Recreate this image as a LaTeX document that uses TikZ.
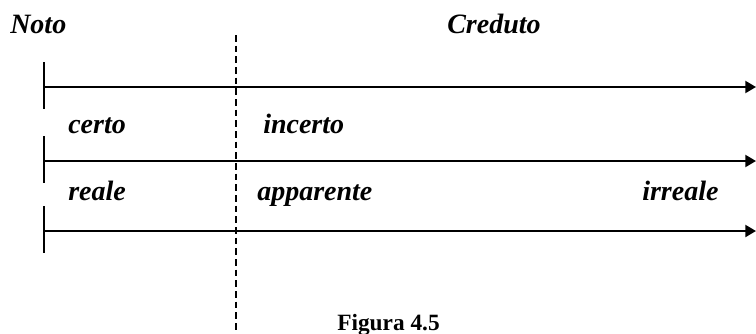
\documentclass[tikz,border=0pt]{standalone}
\usepackage{fontspec}
\setmainfont{Liberation Serif}
\usetikzlibrary{arrows.meta,positioning}
\tikzset{
  lbl/.style={inner sep=0pt, anchor=base west, font=\fontsize{21}{25}\selectfont\bfseries\itshape},
  figcap/.style={inner sep=0pt, anchor=base west, font=\fontsize{17.5}{21}\selectfont\bfseries},
  arrowline/.style={-{Triangle[length=8pt, width=9pt]}, line width=1.5pt},
  tickmark/.style={line width=1.5pt},
  divide/.style={line width=1.4pt, dash pattern=on 5pt off 3pt},
}

\begin{document}
\begin{tikzpicture}[x=0.75pt, y=-0.75pt]
  \useasboundingbox (0,0) rectangle (756,333);
  % titles
  \node[lbl] (noto) at (10,33) {Noto};
  \node[lbl] (creduto) at (447,33) {Creduto};
  % the three scales
  \foreach \n/\y in {a/87, b/161, c/231} {
    \coordinate (s\n) at (44,\y);
    \coordinate (e\n) at (756,\y);
    \coordinate (t\n) at (44,\y-25);
    \coordinate (b\n) at (44,\y+22);
    \draw[tickmark] (t\n) -- (b\n);
    \draw[arrowline] (s\n) -- (e\n);
  }
  % boundary noto / creduto
  \coordinate (dtop) at (236,35);
  \coordinate (dbot) at (236,333);
  \draw[divide] (dtop) -- (dbot);
  % labels
  \node[lbl] (certo) at (68,133) {certo};
  \node[lbl] (incerto) at (263,133) {incerto};
  \node[lbl] (reale) at (68,200) {reale};
  \node[lbl] (apparente) at (257,200) {apparente};
  \node[lbl] (irreale) at (642,200) {irreale};
  \node[figcap] (fig) at (337,330) {Figura 4.5};
\end{tikzpicture}
\end{document}
